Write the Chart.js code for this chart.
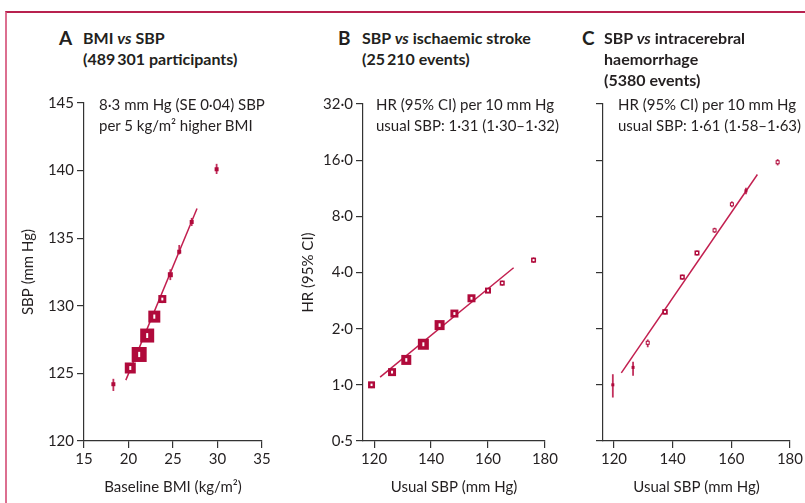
<!DOCTYPE html>
<html>
<head>
<meta charset="utf-8">
<script src="https://cdn.jsdelivr.net/npm/chart.js@4/dist/chart.umd.min.js"></script>
<style>
body { margin: 0; background: #fff; font-family: Lato, "Open Sans", sans-serif; color: #231f20; }
#wrap { position: relative; width: 805px; height: 503px; overflow: hidden; }
#frame { position: absolute; left: 5px; top: 11px; width: 830px; height: 530px; border-left: 2px solid #dc6f90; border-top: 2px solid #b8214f; }
canvas { position: absolute; }
.letter { position: absolute; font-weight: 700; font-size: 19px; line-height: 21px; }
.title { position: absolute; font-weight: 700; font-size: 16px; line-height: 21px; white-space: nowrap; }
.note { position: absolute; font-size: 15px; line-height: 21px; white-space: nowrap; }
</style>
</head>
<body>
<div id="wrap">
  <div id="frame"></div>
  <canvas id="chartA" width="265" height="412" style="left:10px;top:88px"></canvas>
  <canvas id="chartB" width="270" height="412" style="left:290px;top:88px"></canvas>
  <canvas id="chartC" width="245" height="412" style="left:560px;top:88px"></canvas>

  <div class="letter" style="left:59px;top:27px">A</div>
  <div class="title" style="left:83px;top:27px">BMI <i>vs</i> SBP<br>(489&#8201;301 participants)</div>
  <div class="letter" style="left:338px;top:27px">B</div>
  <div class="title" style="left:362px;top:27px">SBP <i>vs</i> ischaemic stroke<br>(25&#8201;210 events)</div>
  <div class="letter" style="left:582px;top:27px">C</div>
  <div class="title" style="left:604px;top:27px">SBP <i>vs</i> intracerebral<br>haemorrhage<br>(5380 events)</div>

  <div class="note" style="left:99px;top:94px">8·3 mm Hg (SE 0·04) SBP<br>per 5 kg/m² higher BMI</div>
  <div class="note" style="left:376px;top:94px">HR (95% CI) per 10 mm Hg<br>usual SBP: 1·31 (1·30–1·32)</div>
  <div class="note" style="left:618px;top:94px">HR (95% CI) per 10 mm Hg<br>usual SBP: 1·61 (1·58–1·63)</div>
</div>
<script>
// A: BMI vs SBP
var bmiA   = [18.3, 20.2, 21.2, 22.1, 22.9, 23.8, 24.7, 25.7, 27.1, 29.9];
var sbpA   = [124.2, 125.4, 126.4, 127.8, 129.2, 130.5, 132.3, 134.0, 136.2, 140.1];
var sbpLoA = [123.7, 125.2, 126.2, 127.6, 129.0, 130.2, 131.9, 133.8, 135.9, 139.75];
var sbpHiA = [124.6, 125.6, 126.6, 128.0, 129.4, 130.8, 132.7, 134.5, 136.5, 140.5];
var boxA   = [4, 11, 15, 14, 12, 8, 5, 4, 4, 4];
var fitBmiA = [19.7, 27.7];
var fitSbpA = [124.5, 137.2];
var xTicksA = [15, 20, 25, 30, 35];
var yTicksA = [120, 125, 130, 135, 140, 145];

// B: SBP vs ischaemic stroke
var sbpB  = [119.1, 126.3, 131.3, 137.3, 143.0, 148.2, 154.2, 160.0, 165.0, 176.0];
var hrB   = [1.00, 1.17, 1.36, 1.65, 2.09, 2.41, 2.91, 3.20, 3.51, 4.66];
var hrLoB = [0.96, 1.14, 1.33, 1.62, 2.05, 2.36, 2.84, 3.11, 3.40, 4.50];
var hrHiB = [1.03, 1.20, 1.39, 1.68, 2.13, 2.46, 2.98, 3.29, 3.62, 4.82];
var boxB  = [7, 8, 10, 11, 10, 8, 8, 6, 5, 5];
var fitSbpB = [122.1, 169.0];
var fitHrB  = [1.10, 4.24];

// C: SBP vs intracerebral haemorrhage
var sbpC  = [119.6, 126.5, 131.5, 137.4, 143.3, 148.3, 154.3, 160.2, 165.0, 175.8];
var hrC   = [1.00, 1.24, 1.68, 2.46, 3.78, 5.09, 6.73, 9.28, 10.96, 15.6];
var hrLoC = [0.855, 1.12, 1.59, 2.38, 3.66, 4.93, 6.52, 8.95, 10.5, 15.0];
var hrHiC = [1.14, 1.33, 1.75, 2.55, 3.90, 5.25, 6.95, 9.62, 11.4, 16.2];
var boxC  = [3, 3, 4, 5.5, 5, 5, 4, 4, 3, 4];
var fitSbpC = [122.5, 168.9];
var fitHrC  = [1.16, 13.4];

var xTicksBC = [120, 140, 160, 180];
var yTicksBC = [0.5, 1, 2, 4, 8, 16, 32];

var RED = '#b00a3b';
var LINE = '#c21f4f';
var INK = '#231f20';
var AXIS = '#333333';
var FONT = 'Lato';

function points(xs, ys) {
    return xs.map(function (x, i) { return { x: x, y: ys[i] }; });
}

// error bars under the boxes, small white mark on top of them
var boxMarks = {
    id: 'boxMarks',
    beforeDatasetsDraw: function (chart) {
        var ctx = chart.ctx;
        chart.data.datasets.forEach(function (ds, i) {
            if (!ds.lo) return;
            var meta = chart.getDatasetMeta(i);
            ctx.save();
            ctx.strokeStyle = '#c2305c';
            ctx.lineWidth = 1.8;
            meta.data.forEach(function (pt, j) {
                ctx.beginPath();
                ctx.moveTo(pt.x, chart.scales.y.getPixelForValue(ds.lo[j]));
                ctx.lineTo(pt.x, chart.scales.y.getPixelForValue(ds.hi[j]));
                ctx.stroke();
            });
            ctx.restore();
        });
    },
    afterDatasetsDraw: function (chart) {
        var ctx = chart.ctx;
        chart.data.datasets.forEach(function (ds, i) {
            if (!ds.box) return;
            var meta = chart.getDatasetMeta(i);
            ctx.save();
            ctx.fillStyle = '#ffffff';
            meta.data.forEach(function (pt, j) {
                var s = ds.box[j];
                if (s < ds.holeMin) return;
                var h = Math.max(2, s * 0.35);
                ctx.fillRect(pt.x - 1, pt.y - h / 2, 2, h);
            });
            ctx.restore();
        });
    }
};

function makePanel(id, p) {
    var ctx = document.getElementById(id).getContext('2d');
    var tickFont = { family: FONT, size: 15 };
    return new Chart(ctx, {
        type: 'scatter',
        data: {
            datasets: [
                {
                    data: points(p.x, p.y),
                    lo: p.lo,
                    hi: p.hi,
                    box: p.box,
                    holeMin: p.holeMin,
                    pointStyle: 'rect',
                    pointRadius: p.box.map(function (s) { return s / Math.SQRT2; }),
                    backgroundColor: RED,
                    borderWidth: 0,
                    order: 0
                },
                {
                    type: 'line',
                    data: points(p.fitX, p.fitY),
                    borderColor: LINE,
                    borderWidth: 1.5,
                    pointRadius: 0,
                    order: 1
                }
            ]
        },
        options: {
            responsive: false,
            animation: false,
            events: [],
            layout: { padding: { top: p.padTop, right: p.padRight, left: 0, bottom: 0 } },
            plugins: { legend: { display: false }, tooltip: { enabled: false } },
            scales: {
                x: {
                    type: 'linear',
                    min: p.xMin,
                    max: p.xMax,
                    afterBuildTicks: function (s) { s.ticks = p.xTicks.map(function (v) { return { value: v }; }); },
                    grid: { drawOnChartArea: false, drawTicks: true, tickLength: 7, color: AXIS, lineWidth: 1.2 },
                    border: { color: AXIS, width: 1.2 },
                    ticks: { color: INK, font: tickFont, padding: 2, maxRotation: 0, autoSkip: false },
                    title: { display: true, text: p.xTitle, color: INK, font: tickFont, padding: { top: 0, bottom: 4 } },
                    afterFit: function (s) { s.height = 59; }
                },
                y: {
                    type: p.yType,
                    min: p.yMin,
                    max: p.yMax,
                    afterBuildTicks: function (s) { s.ticks = p.yTicks.map(function (v) { return { value: v }; }); },
                    grid: { drawOnChartArea: false, drawTicks: true, tickLength: 7, color: AXIS, lineWidth: 1.2 },
                    border: { color: AXIS, width: 1.2 },
                    ticks: { color: INK, font: tickFont, padding: 3, autoSkip: false, callback: p.yLabel },
                    title: { display: !!p.yTitle, text: p.yTitle, color: INK, font: tickFont, padding: { top: 9, bottom: 0 } },
                    afterFit: function (s) { s.width = p.yWidth; }
                }
            }
        },
        plugins: [boxMarks]
    });
}

function hrLabel(v) { return v.toFixed(1).replace('.', '·'); }

makePanel('chartA', {
    x: bmiA, y: sbpA, lo: sbpLoA, hi: sbpHiA, box: boxA, fitX: fitBmiA, fitY: fitSbpA,
    xMin: 15, xMax: 35, xTicks: xTicksA, xTitle: 'Baseline BMI (kg/m²)',
    yType: 'linear', yMin: 120, yMax: 145, yTicks: yTicksA, yTitle: 'SBP (mm Hg)',
    yLabel: function (v) { return v; },
    yWidth: 74, padTop: 15, padRight: 13, holeMin: 7
});

makePanel('chartB', {
    x: sbpB, y: hrB, lo: hrLoB, hi: hrHiB, box: boxB, fitX: fitSbpB, fitY: fitHrB,
    xMin: 116.1, xMax: 180, xTicks: xTicksBC, xTitle: 'Usual SBP (mm Hg)',
    yType: 'logarithmic', yMin: 0.5, yMax: 32, yTicks: yTicksBC, yTitle: 'HR (95% CI)',
    yLabel: hrLabel,
    yWidth: 73, padTop: 16, padRight: 11, holeMin: 4
});

makePanel('chartC', {
    x: sbpC, y: hrC, lo: hrLoC, hi: hrHiC, box: boxC, fitX: fitSbpC, fitY: fitHrC,
    xMin: 116.25, xMax: 180, xTicks: xTicksBC, xTitle: 'Usual SBP (mm Hg)',
    yType: 'logarithmic', yMin: 0.5, yMax: 32, yTicks: yTicksBC, yTitle: '',
    yLabel: function () { return ''; },
    yWidth: 43, padTop: 16, padRight: 15, holeMin: 4
});
</script>
</body>
</html>
